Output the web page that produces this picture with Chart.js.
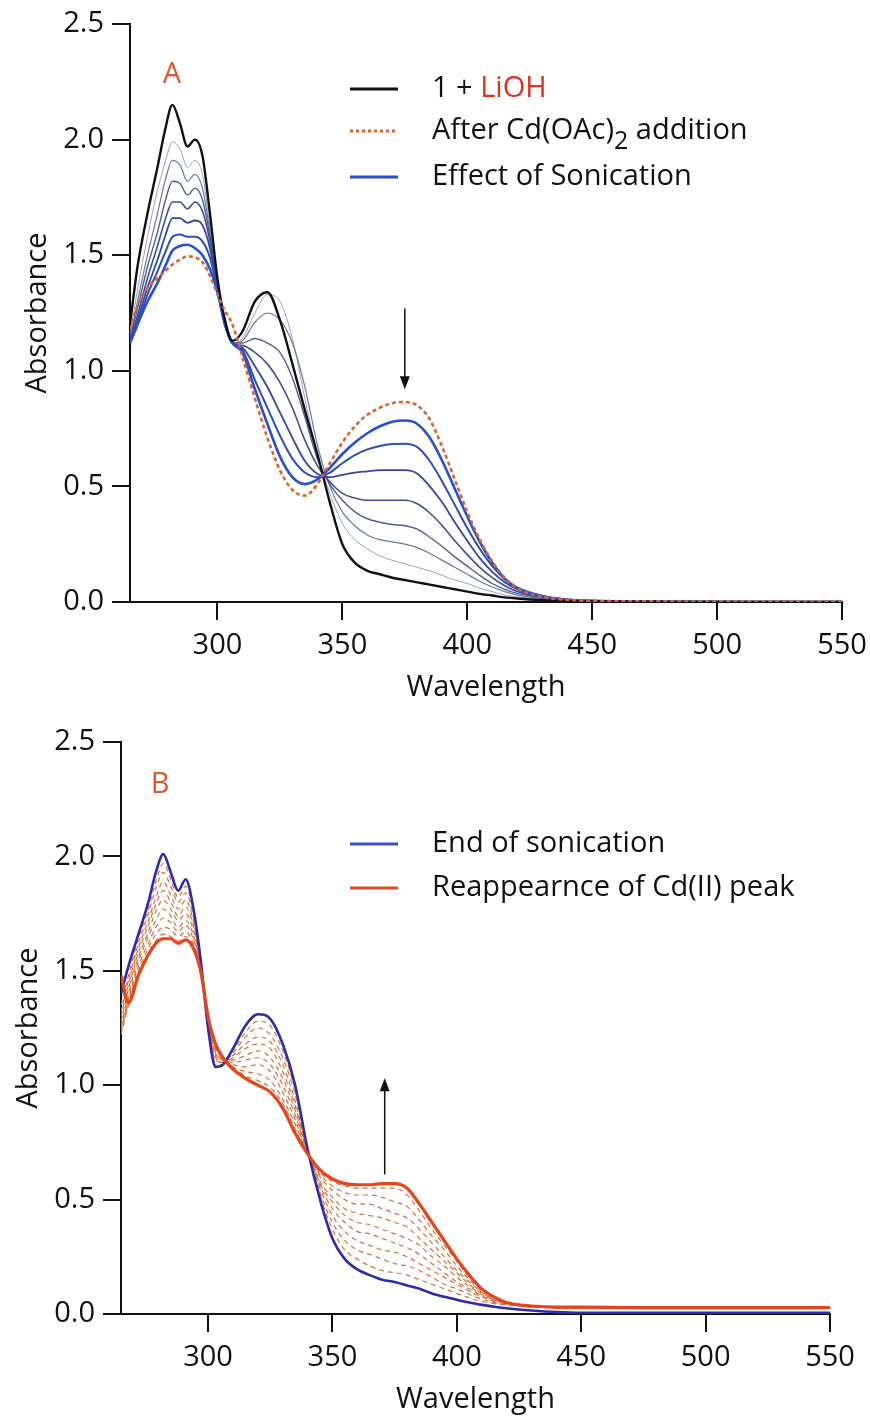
<!DOCTYPE html>
<html lang="en">
  <head>
    <meta charset="UTF-8" />
    <title>Absorbance spectra - sonication</title>
    <script src="https://cdn.jsdelivr.net/npm/chart.js@4.4.1/dist/chart.umd.min.js"></script>
    <style>
      body { margin: 0; background: #fff; }
      .panel { width: 870px; height: 710px; }
    </style>
  </head>
  <body>
    <div class="panel"><canvas id="panel-a" width="870" height="710"></canvas></div>
    <div class="panel"><canvas id="panel-b" width="870" height="710"></canvas></div>

  <script>
    // shared x grid (nm) and ticks
    const wavelengths = [265, 268, 272, 276, 279, 282, 285, 288, 291, 294, 297, 300, 303, 306, 310,
      315, 320, 325, 330, 335, 340, 345, 350, 355, 360, 365, 370, 375, 380, 385,
      390, 395, 400, 405, 410, 415, 420, 430, 440, 450, 475, 500, 550];
    const xTicks = [300, 350, 400, 450, 500, 550];
    const yTicks = [0, 0.5, 1.0, 1.5, 2.0, 2.5];

    // panel A
    const liohCurve = [1.20,1.45,1.68,1.88,2.04, 2.15,2.07,1.97,2.00,1.93, 1.68,1.40,1.22,1.13,1.17,
      1.30,1.34,1.22,1.03,0.83, 0.64,0.43,0.25,0.17,0.135, 0.12,0.105,0.095,0.085,0.075,
      0.065,0.055,0.045,0.035,0.028, 0.02,0.015,0.008,0.004,0.002, 0.001,0,0];
    const cdCurve = [1.18,1.28,1.36,1.40,1.43, 1.46,1.48,1.495,1.49,1.47, 1.41,1.33,1.26,1.20,1.06,
      0.88,0.71,0.57,0.485,0.46, 0.51,0.60,0.69,0.76,0.81, 0.84,0.86,0.865,0.85,0.79,
      0.67,0.53,0.39,0.27,0.175, 0.105,0.06,0.022,0.01,0.005, 0.003,0.002,0.002];
    const sonic1 = [1.12,1.20,1.30,1.38,1.45, 1.52,1.54,1.545,1.53,1.50, 1.44,1.34,1.20,1.12,1.08,
      0.92,0.77,0.63,0.54,0.51, 0.53,0.58,0.64,0.69,0.73, 0.76,0.78,0.785,0.77,0.71,
      0.61,0.49,0.37,0.26,0.17, 0.10,0.058,0.022,0.01,0.005, 0.002,0.001,0.001];
    const sonic2 = [1.12,1.20,1.33,1.43,1.51, 1.58,1.59,1.58,1.58,1.56, 1.49,1.35,1.20,1.12,1.09,
      0.96,0.84,0.72,0.62,0.56, 0.54,0.56,0.60,0.635,0.66, 0.675,0.683,0.685,0.67,0.61,
      0.52,0.42,0.32,0.23,0.155, 0.10,0.063,0.027,0.011,0.005, 0.002,0.001,0];
    const sonic3 = [1.13,1.22,1.36,1.48,1.58, 1.66,1.66,1.64,1.65,1.63, 1.53,1.35,1.20,1.12,1.10,
      1.02,0.93,0.82,0.71,0.61, 0.555,0.54,0.55,0.56,0.565, 0.57,0.57,0.57,0.555,0.50,
      0.43,0.345,0.265,0.19,0.13, 0.085,0.055,0.024,0.01,0.005, 0.002,0.001,0];
    const sonic4 = [1.13,1.24,1.40,1.54,1.65, 1.73,1.73,1.70,1.73,1.69, 1.56,1.36,1.20,1.12,1.11,
      1.08,1.03,0.95,0.84,0.70, 0.59,0.52,0.47,0.45,0.44, 0.44,0.44,0.44,0.425,0.385,
      0.33,0.265,0.205,0.15,0.105, 0.07,0.045,0.02,0.009,0.004, 0.001,0,0];
    const sonic5 = [1.14,1.27,1.45,1.60,1.73, 1.82,1.81,1.76,1.79,1.74, 1.58,1.36,1.20,1.12,1.12,
      1.14,1.12,1.08,0.97,0.80, 0.62,0.51,0.44,0.39,0.36, 0.345,0.335,0.33,0.315,0.28,
      0.24,0.195,0.155,0.115,0.08, 0.055,0.037,0.018,0.008,0.004, 0.001,0,0];
    const sonic6 = [1.14,1.30,1.50,1.68,1.82, 1.91,1.89,1.82,1.85,1.79, 1.60,1.37,1.20,1.12,1.13,
      1.21,1.25,1.22,1.12,0.93, 0.68,0.50,0.39,0.33,0.29, 0.27,0.26,0.25,0.235,0.21,
      0.18,0.15,0.12,0.09,0.065, 0.045,0.03,0.015,0.007,0.003, 0.001,0,0];
    const sonic7 = [1.15,1.35,1.58,1.78,1.90, 1.99,1.96,1.88,1.91,1.85, 1.62,1.38,1.20,1.12,1.14,
      1.25,1.33,1.30,1.14,0.88, 0.64,0.47,0.34,0.27,0.23, 0.20,0.18,0.165,0.15,0.135,
      0.115,0.095,0.08,0.06,0.045, 0.03,0.022,0.012,0.006,0.003, 0.001,0,0];

    // panel B
    const endSonication = [1.40,1.52,1.66,1.80,1.93, 2.01,1.93,1.85,1.90,1.78, 1.55,1.25,1.08,1.09,1.16,
      1.26,1.31,1.29,1.18,1.00, 0.72,0.50,0.33,0.24,0.195, 0.17,0.15,0.14,0.125,0.11,
      0.09,0.075,0.062,0.05,0.04, 0.032,0.025,0.015,0.008,0.005, 0.005,0.005,0.005];
    const cdReturn = [1.48,1.36,1.48,1.57,1.62, 1.64,1.64,1.62,1.635,1.60, 1.50,1.30,1.18,1.12,1.07,
      1.03,1.00,0.97,0.90,0.79, 0.70,0.63,0.59,0.57,0.565, 0.565,0.57,0.57,0.55,0.48,
      0.40,0.32,0.24,0.17,0.11, 0.075,0.05,0.035,0.03,0.03, 0.028,0.028,0.028];
    const step1 = [1.35,1.48,1.64,1.77,1.89, 1.97,1.90,1.82,1.87,1.76, 1.55,1.26,1.09,1.09,1.15,
      1.23,1.28,1.26,1.15,0.98, 0.72,0.52,0.37,0.28,0.24, 0.21,0.19,0.18,0.17,0.15,
      0.13,0.11,0.09,0.07,0.055, 0.045,0.04,0.03,0.028,0.027, 0.027,0.027,0.027];
    const step2 = [1.32,1.46,1.62,1.75,1.86, 1.93,1.87,1.80,1.84,1.74, 1.54,1.26,1.10,1.10,1.14,
      1.21,1.25,1.22,1.12,0.96, 0.72,0.53,0.40,0.32,0.28, 0.26,0.24,0.22,0.21,0.19,
      0.16,0.13,0.11,0.085,0.065, 0.05,0.042,0.03,0.028,0.027, 0.027,0.027,0.027];
    const step3 = [1.30,1.44,1.60,1.72,1.82, 1.89,1.83,1.77,1.81,1.72, 1.54,1.27,1.11,1.10,1.13,
      1.18,1.21,1.19,1.09,0.93, 0.71,0.55,0.43,0.36,0.32, 0.30,0.28,0.27,0.25,0.22,
      0.19,0.16,0.13,0.10,0.075, 0.055,0.044,0.031,0.028,0.027, 0.027,0.027,0.027];
    const step4 = [1.28,1.42,1.58,1.70,1.79, 1.85,1.80,1.74,1.78,1.70, 1.53,1.27,1.12,1.10,1.12,
      1.16,1.18,1.16,1.06,0.91, 0.71,0.56,0.46,0.40,0.36, 0.35,0.33,0.31,0.29,0.26,
      0.22,0.18,0.14,0.11,0.08, 0.06,0.046,0.032,0.028,0.027, 0.027,0.027,0.027];
    const step5 = [1.26,1.40,1.56,1.67,1.76, 1.81,1.77,1.72,1.75,1.68, 1.53,1.28,1.13,1.11,1.11,
      1.13,1.15,1.12,1.03,0.89, 0.71,0.57,0.49,0.43,0.40, 0.39,0.37,0.35,0.33,0.30,
      0.25,0.21,0.16,0.12,0.085, 0.062,0.047,0.033,0.028,0.027, 0.027,0.027,0.027];
    const step6 = [1.25,1.38,1.54,1.65,1.72, 1.77,1.74,1.69,1.72,1.66, 1.52,1.28,1.14,1.11,1.10,
      1.11,1.12,1.09,1.00,0.87, 0.71,0.58,0.51,0.46,0.44, 0.43,0.42,0.40,0.38,0.33,
      0.28,0.23,0.18,0.13,0.09, 0.065,0.048,0.033,0.028,0.027, 0.027,0.027,0.027];
    const step7 = [1.24,1.37,1.52,1.62,1.69, 1.73,1.71,1.67,1.70,1.64, 1.52,1.29,1.15,1.11,1.09,
      1.08,1.09,1.06,0.97,0.85, 0.70,0.60,0.54,0.50,0.48, 0.48,0.46,0.44,0.42,0.37,
      0.31,0.25,0.19,0.14,0.095, 0.068,0.049,0.034,0.028,0.027, 0.027,0.027,0.027];
    const step8 = [1.23,1.36,1.50,1.60,1.66, 1.69,1.68,1.65,1.67,1.62, 1.51,1.29,1.16,1.12,1.08,
      1.06,1.05,1.02,0.94,0.83, 0.70,0.61,0.56,0.53,0.52, 0.52,0.51,0.49,0.47,0.41,
      0.34,0.28,0.21,0.15,0.10, 0.07,0.05,0.034,0.028,0.027, 0.027,0.027,0.027];
    const step9 = [1.22,1.35,1.49,1.58,1.63, 1.66,1.65,1.63,1.65,1.61, 1.51,1.30,1.17,1.12,1.08,
      1.04,1.02,0.99,0.92,0.81, 0.70,0.62,0.58,0.56,0.55, 0.55,0.55,0.55,0.52,0.45,
      0.37,0.30,0.23,0.16,0.105, 0.072,0.05,0.035,0.028,0.027, 0.027,0.027,0.027];

    // arrows: wavelength, from -> to absorbance
    const arrowA = {x: 375, from: 1.27, to: 0.92};
    const arrowB = {x: 371, from: 0.61, to: 1.03};

    const FONT = "'Open Sans', sans-serif";
    const INK = '#111';
    const TEXT_SIZE = 29;

    function pts(values) {
      return values.map((v, i) => ({x: wavelengths[i], y: v}));
    }

    function line(values, color, width, dash) {
      return {
        data: pts(values),
        borderColor: color,
        borderWidth: width,
        borderDash: dash || [],
        fill: false,
        pointRadius: 0,
        cubicInterpolationMode: 'monotone'
      };
    }

    // panel letter, legend and arrow drawn on top of the plot
    const decor = {
      id: 'decor',
      afterDatasetsDraw(chart, args, opts) {
        const ctx = chart.ctx;
        const xs = chart.scales.x, ys = chart.scales.y;
        ctx.save();
        ctx.textBaseline = 'middle';

        ctx.font = TEXT_SIZE + 'px ' + FONT;
        ctx.fillStyle = '#e8542a';
        ctx.textAlign = 'center';
        ctx.fillText(opts.letter, opts.letterX, opts.letterY);

        ctx.textAlign = 'left';
        opts.legend.forEach(row => {
          ctx.beginPath();
          ctx.setLineDash(row.dash || []);
          ctx.strokeStyle = row.color;
          ctx.lineWidth = row.width;
          ctx.moveTo(opts.legendX, row.y);
          ctx.lineTo(opts.legendX + 48, row.y);
          ctx.stroke();
          ctx.setLineDash([]);
          let x = opts.legendX + 82;
          row.text.forEach(part => {
            ctx.font = (part.sub ? '25px ' : TEXT_SIZE + 'px ') + FONT;
            ctx.fillStyle = part.color || INK;
            ctx.fillText(part.t, x, row.y + (part.sub ? 11 : 0));
            x += ctx.measureText(part.t).width;
          });
        });

        const a = opts.arrow;
        const ax = xs.getPixelForValue(a.x);
        const y0 = ys.getPixelForValue(a.from);
        const y1 = ys.getPixelForValue(a.to);
        const dir = Math.sign(y1 - y0);
        ctx.strokeStyle = INK;
        ctx.fillStyle = INK;
        ctx.lineWidth = 1.5;
        ctx.beginPath();
        ctx.moveTo(ax, y0);
        ctx.lineTo(ax, y1 - dir * 10);
        ctx.stroke();
        ctx.beginPath();
        ctx.moveTo(ax, y1);
        ctx.lineTo(ax - 5, y1 - dir * 13);
        ctx.lineTo(ax + 5, y1 - dir * 13);
        ctx.closePath();
        ctx.fill();
        ctx.restore();
      }
    };

    function makeOptions(cfg) {
      const tickFont = {family: FONT, size: TEXT_SIZE};
      return {
        responsive: false,
        animation: false,
        layout: {padding: {left: 0, right: cfg.right, top: cfg.top, bottom: 0}},
        plugins: {legend: {display: false}, tooltip: {enabled: false}, decor: cfg.decor},
        scales: {
          x: {
            type: 'linear', min: 265, max: 550,
            afterBuildTicks: axis => { axis.ticks = xTicks.map(v => ({value: v})); },
            afterFit: axis => {
              axis.height = cfg.xHeight;
              axis.paddingLeft = 0;
              axis.paddingRight = 0;
            },
            border: {display: true, color: INK, width: 2},
            grid: {display: true, drawOnChartArea: false, drawTicks: true, tickLength: 18, color: INK, lineWidth: 2},
            ticks: {color: INK, font: tickFont, padding: 8, maxRotation: 0, autoSkip: false},
            title: {display: true, text: 'Wavelength', color: INK, font: tickFont, padding: {top: 0, bottom: cfg.xTitlePad}}
          },
          y: {
            min: 0, max: 2.5,
            afterBuildTicks: axis => { axis.ticks = yTicks.map(v => ({value: v})); },
            afterFit: axis => {
              axis.width = cfg.yWidth;
              axis.paddingTop = 0;
              axis.paddingBottom = 0;
            },
            border: {display: true, color: INK, width: 2},
            grid: {display: true, drawOnChartArea: false, drawTicks: true, tickLength: 18, color: INK, lineWidth: 2},
            ticks: {color: INK, font: tickFont, padding: 8, callback: v => v.toFixed(1)},
            title: {display: true, text: 'Absorbance', color: INK, font: tickFont, padding: {top: cfg.yTitlePad, bottom: 0}}
          }
        }
      };
    }

    new Chart(document.getElementById('panel-a'), {
      type: 'line',
      data: {
        datasets: [
          line(cdCurve, '#e0622a', 2.6, [4, 3]),
          line(liohCurve, '#111111', 2.4),
          line(sonic1, '#2450d8', 2.6),
          line(sonic2, '#2d4cc0', 2.0),
          line(sonic3, '#34489f', 1.8),
          line(sonic4, '#3f4f95', 1.6),
          line(sonic5, '#4e5d99', 1.4),
          line(sonic6, '#6a78a8', 1.2),
          line(sonic7, '#97a2c4', 1.0)
        ]
      },
      options: makeOptions({
        right: 28, top: 24, xHeight: 108, yWidth: 130, xTitlePad: 5, yTitlePad: 20,
        decor: {
          letter: 'A', letterX: 172, letterY: 75, legendX: 350,
          legend: [
            {y: 89, color: '#111111', width: 3, text: [{t: '1 + '}, {t: 'LiOH', color: '#e0301e'}]},
            {y: 131, color: '#e0622a', width: 3, dash: [3, 3], text: [{t: 'After Cd(OAc)'}, {t: '2', sub: true}, {t: ' addition'}]},
            {y: 177, color: '#2a48d0', width: 3, text: [{t: 'Effect of Sonication'}]}
          ],
          arrow: arrowA
        }
      }),
      plugins: [decor]
    });

    const dashColor = '#d4703c';
    new Chart(document.getElementById('panel-b'), {
      type: 'line',
      data: {
        datasets: [
          line(cdReturn, '#e8441c', 3.2),
          line(endSonication, '#2b2bb0', 2.6),
          line(step9, dashColor, 1.2, [5, 4]),
          line(step8, dashColor, 1.2, [5, 4]),
          line(step7, dashColor, 1.2, [5, 4]),
          line(step6, dashColor, 1.2, [5, 4]),
          line(step5, dashColor, 1.2, [5, 4]),
          line(step4, dashColor, 1.2, [5, 4]),
          line(step3, dashColor, 1.2, [5, 4]),
          line(step2, dashColor, 1.2, [5, 4]),
          line(step1, dashColor, 1.2, [5, 4])
        ]
      },
      options: makeOptions({
        right: 40, top: 32, xHeight: 106, yWidth: 121, xTitlePad: 3, yTitlePad: 11,
        decor: {
          letter: 'B', letterX: 160, letterY: 75, legendX: 350,
          legend: [
            {y: 134, color: '#3b50d8', width: 3, text: [{t: 'End of sonication'}]},
            {y: 178, color: '#e04a25', width: 3, text: [{t: 'Reappearnce of Cd(II) peak'}]}
          ],
          arrow: arrowB
        }
      }),
      plugins: [decor]
    });
  </script>
  </body>
</html>
